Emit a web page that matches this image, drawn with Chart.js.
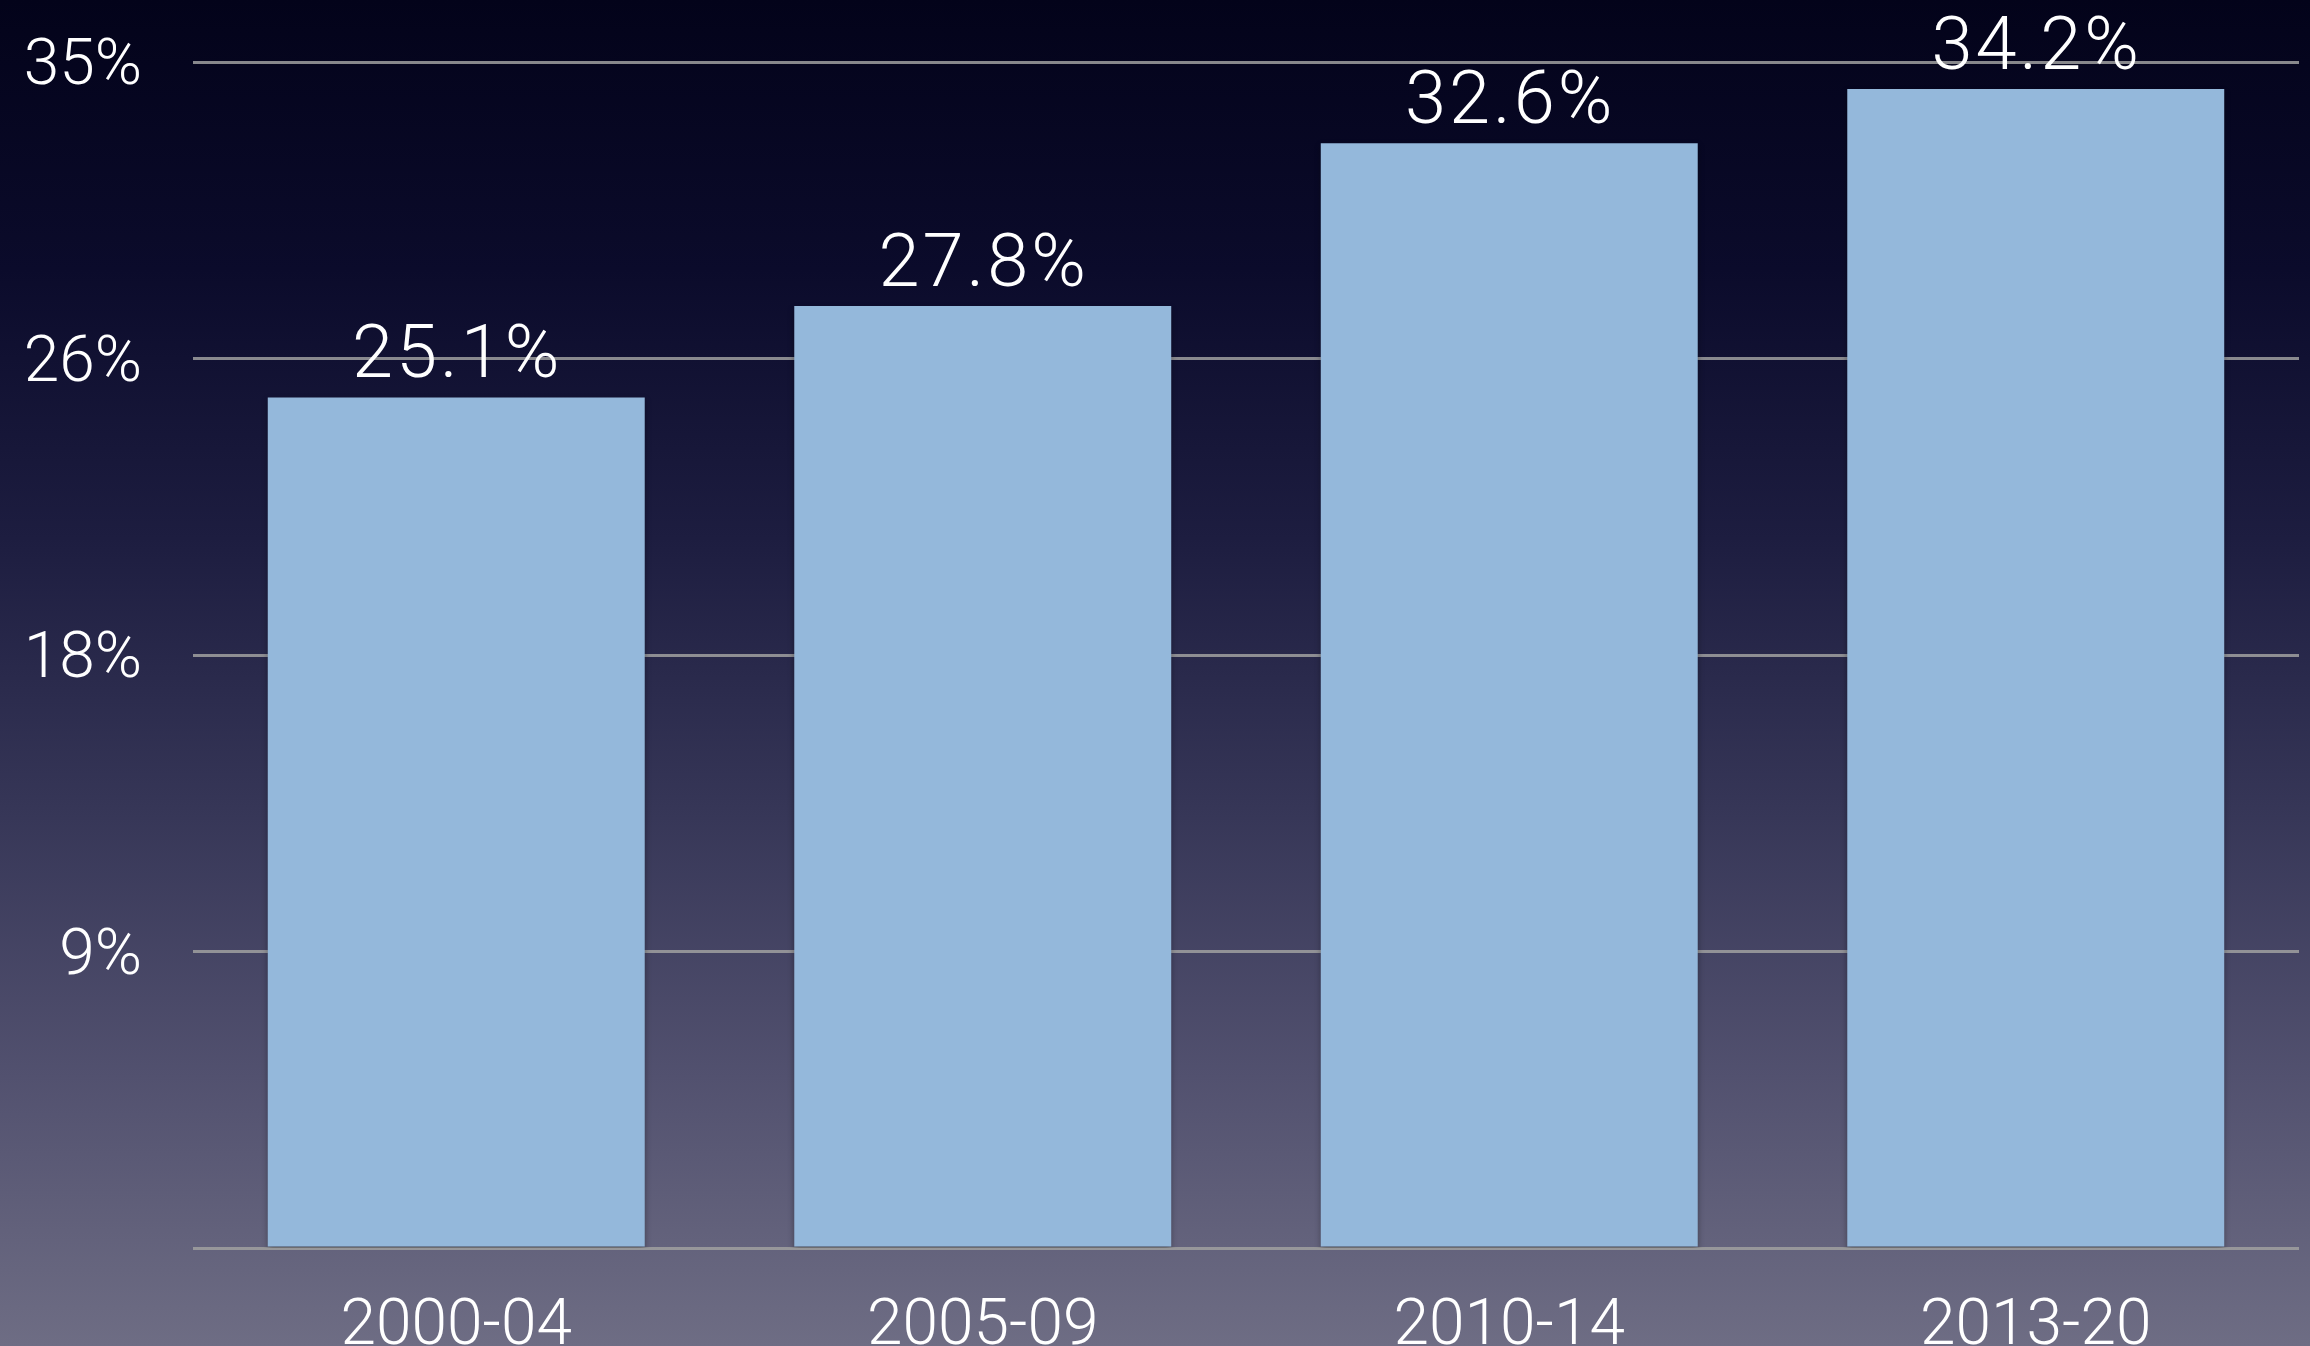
<!DOCTYPE html>
<html>
<head>
<meta charset="utf-8">
<script src="https://cdn.jsdelivr.net/npm/chart.js@4"></script>
<style>
    body { margin: 0; background: #05051b; overflow: hidden; }
</style>
</head>
<body>
<canvas id="myChart" width="2310" height="1346"></canvas>
<script>
//DADOS
const periodos = ['2000-04', '2005-09', '2010-14', '2013-20']
const valores = [25.1, 27.8, 32.6, 34.2]
const rotulos = ['25.1%', '27.8%', '32.6%', '34.2%']
const yTicks = [0, 8.75, 17.5, 26.25, 35]
const yTickLabels = ['', '9%', '18%', '26%', '35%']

const fonte = 'Roboto'

//FUNDO COM DEGRADE
const fundo = {
    id: 'fundo',
    beforeDraw(chart) {
        const ctx = chart.ctx
        const g = ctx.createLinearGradient(0, 0, 0, chart.height)
        g.addColorStop(0, '#03031a')
        g.addColorStop(0.2, '#0b0b2b')
        g.addColorStop(0.4, '#1d1d40')
        g.addColorStop(0.6, '#363657')
        g.addColorStop(0.8, '#52516f')
        g.addColorStop(1, '#6e6d84')
        ctx.save()
        ctx.fillStyle = g
        ctx.fillRect(0, 0, chart.width, chart.height)
        ctx.restore()
    }
}

//SOMBRA DAS BARRAS
const sombra = {
    id: 'sombra',
    beforeDatasetDraw(chart) {
        const ctx = chart.ctx
        ctx.save()
        ctx.shadowColor = 'rgba(0, 0, 0, 0.35)'
        ctx.shadowBlur = 6
        ctx.shadowOffsetY = 3
    },
    afterDatasetDraw(chart) {
        chart.ctx.restore()
    }
}

//ROTULOS EM CIMA DAS BARRAS
const rotulosBarras = {
    id: 'rotulosBarras',
    afterDatasetsDraw(chart) {
        const ctx = chart.ctx
        const meta = chart.getDatasetMeta(0)
        ctx.save()
        ctx.fillStyle = '#ffffff'
        ctx.font = '300 74px ' + fonte
        ctx.letterSpacing = '3px'
        ctx.textAlign = 'center'
        ctx.textBaseline = 'alphabetic'
        meta.data.forEach(function (bar, i) {
            ctx.fillText(rotulos[i], bar.x + 1, bar.y - 20)
        })
        ctx.restore()
    }
}

var ctx = document.getElementById('myChart').getContext('2d')
var myChart = new Chart(ctx, {
    type: 'bar',
    data: {
        labels: periodos,
        datasets: [{
            data: valores,
            backgroundColor: '#94b8db',
            borderWidth: 0,
            categoryPercentage: 1,
            barPercentage: 0.716
        }]
    },
    options: {
        responsive: false,
        animation: false,
        layout: {
            padding: { top: 62, right: 11, left: 0, bottom: 0 }
        },
        plugins: {
            legend: { display: false },
            tooltip: { enabled: false }
        },
        scales: {
            x: {
                grid: { display: false, drawTicks: false },
                border: { display: false },
                ticks: {
                    color: '#ffffff',
                    padding: 42,
                    font: { family: fonte, size: 64, weight: '300' }
                },
                afterFit(scale) { scale.height = 98 }
            },
            y: {
                min: 0,
                max: 35,
                afterBuildTicks(scale) {
                    scale.ticks = yTicks.map(function (v) { return { value: v } })
                },
                grid: {
                    color: 'rgba(160, 160, 160, 0.85)',
                    lineWidth: 3,
                    drawTicks: false
                },
                border: { display: false },
                ticks: {
                    color: '#ffffff',
                    padding: 51,
                    labelOffset: 6,
                    font: { family: fonte, size: 64, weight: '300' },
                    callback: function (value, index) { return yTickLabels[index] }
                },
                afterFit(scale) {
                    scale.width = 193
                    scale.paddingTop = 0
                    scale.paddingBottom = 0
                }
            }
        }
    },
    plugins: [fundo, sombra, rotulosBarras]
})
</script>
</body>
</html>
